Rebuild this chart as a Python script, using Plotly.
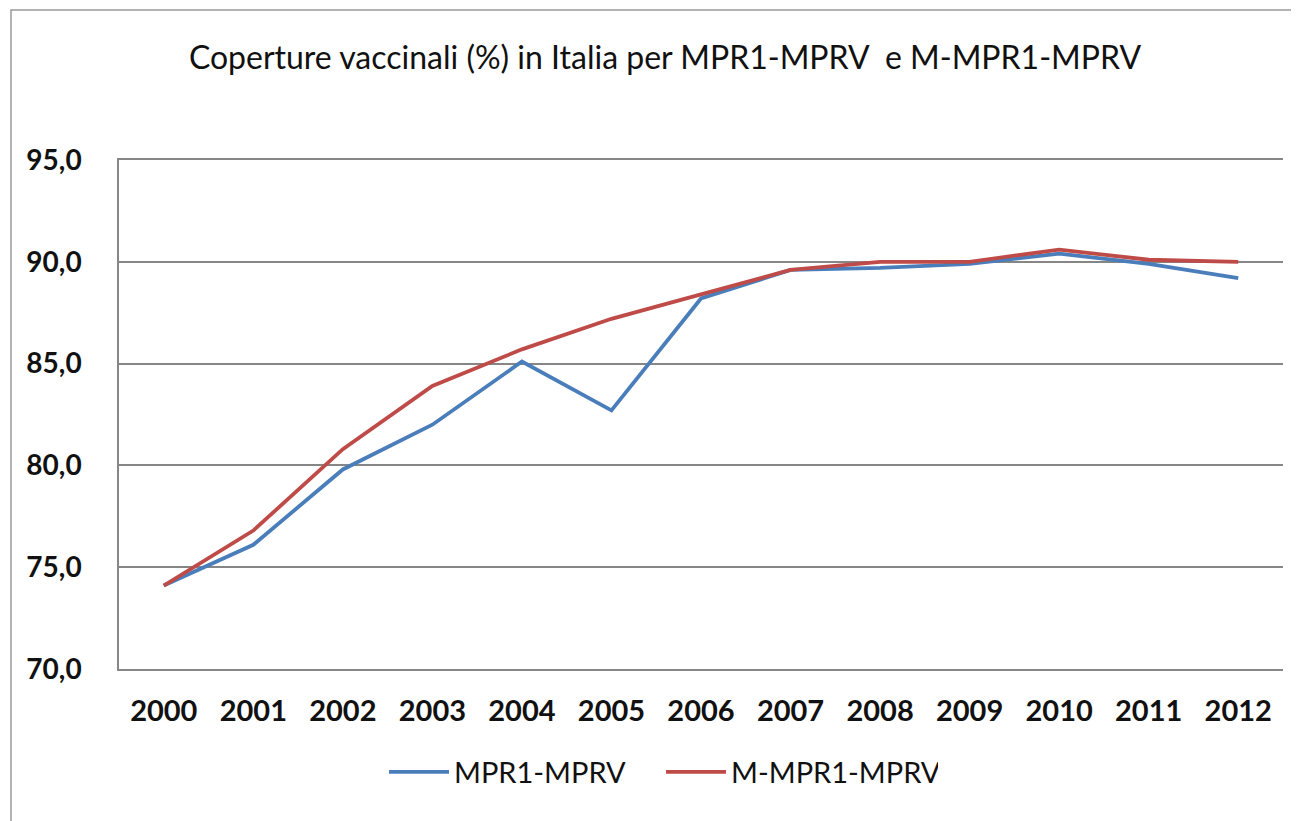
import plotly.graph_objects as go

years = ["2000", "2001", "2002", "2003", "2004", "2005", "2006",
         "2007", "2008", "2009", "2010", "2011", "2012"]
mpr1_mprv = [74.1, 76.1, 79.8, 82.0, 85.1, 82.7, 88.2, 89.6, 89.7, 89.9, 90.4, 89.9, 89.2]
m_mpr1_mprv = [74.1, 76.8, 80.8, 83.9, 85.7, 87.2, 88.4, 89.6, 90.0, 90.0, 90.6, 90.1, 90.0]
y_ticks = [70, 75, 80, 85, 90, 95]

OFF = 8  # page body margin
W, H = 1299 - OFF, 821 - OFF
L, R, T, B = 119 - OFF, 1283 - OFF, 160 - OFF, 669 - OFF

fig = go.Figure()
fig.add_trace(go.Scatter(x=years, y=mpr1_mprv, mode="lines", name="MPR1-MPRV",
                         line=dict(color="#4A7EBB", width=3.8)))
fig.add_trace(go.Scatter(x=years, y=m_mpr1_mprv, mode="lines", name="M-MPR1-MPRV",
                         line=dict(color="#BE4B48", width=3.8)))

font_main = "Lato, 'Open Sans', sans-serif"

fig.update_layout(
    width=W, height=H,
    margin=dict(l=L, r=W - R, t=T, b=H - B, pad=0),
    paper_bgcolor="white", plot_bgcolor="white",
    separators=",.",
    title=dict(text="Coperture vaccinali (%) in Italia per MPR1-MPRV  e M-MPR1-MPRV",
               x=(665 - OFF) / W, xanchor="center", y=1 - (58 - OFF) / H, yanchor="middle",
               font=dict(family=font_main, size=32, color="#111111")),
    showlegend=True,
    legend=dict(orientation="h", x=(384 - OFF - L) / (R - L), xanchor="left",
                y=(B - (772 - OFF)) / (B - T), yanchor="middle",
                font=dict(family=font_main, size=29, color="#111111"),
                itemwidth=60, entrywidth=202, entrywidthmode="pixels",
                bgcolor="rgba(0,0,0,0)", tracegroupgap=0),
    xaxis=dict(type="category", range=[-0.5, 12.5], showgrid=False,
               showline=True, mirror=True, linecolor="#868686", linewidth=1.5,
               zeroline=False, ticks="", ticklabelstandoff=15,
               tickfont=dict(family=font_main, size=29, color="#111111", weight="bold")),
    yaxis=dict(range=[70, 95], tickvals=y_ticks, tickformat=".1f",
               showgrid=True, gridcolor="#868686", gridwidth=1.5,
               showline=True, linecolor="#868686", linewidth=1.5,
               zeroline=False, ticks="", ticklabelstandoff=30,
               tickfont=dict(family=font_main, size=28, color="#111111", weight="bold")),
    shapes=[dict(type="rect", xref="paper", yref="paper",
                 x0=(11 - OFF - L) / (R - L), x1=(1320 - L) / (R - L),
                 y0=(B - (10 - OFF)) / (B - T), y1=(B - 840) / (B - T),
                 line=dict(color="#9a9a9a", width=1.5), fillcolor="rgba(0,0,0,0)",
                 layer="below")],
)

fig.write_html("out.html")
